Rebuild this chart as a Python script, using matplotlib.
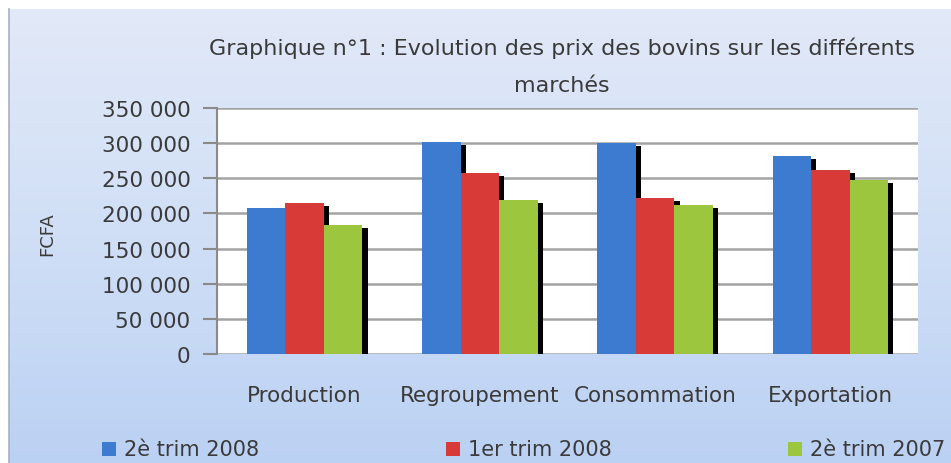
import matplotlib
matplotlib.use("Agg")
import matplotlib.pyplot as plt
import numpy as np
from matplotlib import patheffects as pe
from matplotlib.patches import Rectangle
from matplotlib.ticker import FuncFormatter
from matplotlib.colors import LinearSegmentedColormap

categories = ["Production", "Regroupement", "Consommation", "Exportation"]
series_names = ["2è trim 2008", "1er trim 2008", "2è trim 2007"]
s_2t2008 = [208000, 302000, 300000, 282000]
s_1t2008 = [215000, 257000, 222000, 262000]
s_2t2007 = [183000, 219000, 212000, 247000]
yticks = [0, 50000, 100000, 150000, 200000, 250000, 300000, 350000]
colors = ["#3d7bd0", "#d83a37", "#9cc63d"]

plt.rcParams['font.family'] = ["DejaVu Sans"]
TXT = "#3a3a3a"

W, H = 951, 464
fig = plt.figure(figsize=(W / 100, H / 100), dpi=100)
fig.patch.set_facecolor("white")

# gradient background
bg_ax = fig.add_axes([9 / W, 0, 1 - 9 / W, 1 - 10 / H])
grad = np.linspace(0, 1, 256).reshape(-1, 1)
cmap = LinearSegmentedColormap.from_list("bg", ["#bbd1f3", "#d0dff6", "#e2e9f8"])
bg_ax.imshow(grad, aspect="auto", cmap=cmap, origin="lower", extent=[0, 1, 0, 1])
bg_ax.set_xticks([])
bg_ax.set_yticks([])
for s in ["top", "right", "bottom"]:
    bg_ax.spines[s].set_visible(False)
bg_ax.spines["left"].set_color("#a9b0bf")
bg_ax.spines["left"].set_linewidth(1.2)
bg_ax.set_zorder(-10)

L, R, T, B = 217, 918, 109, 355
ax = fig.add_axes([L / W, 1 - B / H, (R - L) / W, (B - T) / H])
ax.set_facecolor("white")

x = np.arange(len(categories))
bw = 0.22
shadow = [pe.SimplePatchShadow(offset=(3.8, -2.2), shadow_rgbFace="black", alpha=1.0), pe.Normal()]
for i, (vals, name) in enumerate(zip([s_2t2008, s_1t2008, s_2t2007], series_names)):
    bars = ax.bar(x + (i - 1) * bw, vals, width=bw, color=colors[i], label=name, zorder=3 + i)
    for b in bars:
        b.set_path_effects(shadow)

ax.set_xlim(-0.5, len(categories) - 0.5)
ax.set_ylim(0, 350000)
ax.set_yticks(yticks)
ax.yaxis.set_major_formatter(FuncFormatter(lambda v, p: f"{int(v):,}".replace(",", " ")))
ax.yaxis.grid(True, color="#a3a3a3", linewidth=1.8, zorder=1)
ax.set_axisbelow(True)
for s in ["top", "right", "bottom"]:
    ax.spines[s].set_visible(False)
ax.spines["left"].set_color("#8a8a8a")
ax.spines["left"].set_linewidth(1.5)
ax.tick_params(axis="y", length=10, width=1.5, color="#8a8a8a", labelsize=15.5, labelcolor=TXT, pad=9)
ax.set_xticks(x)
ax.set_xticklabels(categories)
ax.tick_params(axis="x", length=0, labelsize=15.5, labelcolor=TXT, pad=22)
ax.set_ylabel("FCFA", fontsize=13, color=TXT)
ax.yaxis.set_label_coords(-0.23, 0.49)

fig.text(562 / W, 1 - 48 / H, "Graphique n°1 : Evolution des prix des bovins sur les différents",
         ha="center", va="center", fontsize=16, color=TXT)
fig.text(562 / W, 1 - 86 / H, "marchés", ha="center", va="center", fontsize=16, color=TXT)

# legend
leg_x = [102, 446, 788]
for xi, c, name in zip(leg_x, colors, series_names):
    fig.patches.append(Rectangle((xi / W, 1 - 457 / H), 14 / W, 14 / H, transform=fig.transFigure,
                                 facecolor=c, edgecolor="none"))
    fig.text((xi + 22) / W, 1 - 450 / H, name, ha="left", va="center", fontsize=15, color=TXT)

fig.savefig("out.png", dpi=100)
